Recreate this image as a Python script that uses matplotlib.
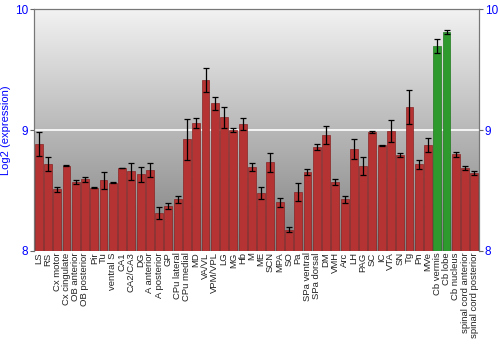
import numpy as np
import matplotlib
matplotlib.use('Agg')
import matplotlib.pyplot as plt
from matplotlib.colors import LinearSegmentedColormap

plt.rcParams['font.family'] = ['Liberation Sans', 'DejaVu Sans']

regions = ['LS', 'RS', 'Cx motor', 'Cx cingulate', 'OB anterior', 'OB posterior',
           'Pir', 'Tu', 'ventral S', 'CA1', 'CA2/CA3', 'DG', 'A anterior', 'A posterior',
           'GP', 'CPu lateral', 'CPu medial', 'MD', 'VA/VL', 'VPM/VPL', 'LG', 'MG', 'Hb',
           'M', 'ME', 'SCN', 'MPA', 'SO', 'Pa', 'SPa ventral', 'SPa dorsal', 'DM', 'VMH',
           'Arc', 'LH', 'PAG', 'SC', 'IC', 'VTA', 'SN', 'Tg', 'Pn', 'MVe', 'Cb vermis',
           'Cb lobe', 'Cb nucleus', 'spinal cord anterior', 'spinal cord posterior']
expr = [8.884, 8.718, 8.509, 8.704, 8.572, 8.594, 8.522, 8.586, 8.563, 8.685,
        8.658, 8.635, 8.669, 8.315, 8.370, 8.426, 8.923, 9.060, 9.414, 9.221,
        9.105, 9.000, 9.050, 8.696, 8.480, 8.732, 8.403, 8.177, 8.490, 8.652,
        8.856, 8.961, 8.569, 8.428, 8.840, 8.702, 8.983, 8.873, 8.992, 8.795,
        9.190, 8.718, 8.873, 9.696, 9.812, 8.799, 8.683, 8.646]
err = [0.096, 0.058, 0.020, 0.005, 0.016, 0.020, 0.005, 0.070, 0.005, 0.003,
       0.070, 0.063, 0.060, 0.050, 0.026, 0.030, 0.170, 0.040, 0.100, 0.054,
       0.088, 0.014, 0.052, 0.033, 0.052, 0.075, 0.037, 0.017, 0.075, 0.028,
       0.025, 0.075, 0.022, 0.028, 0.083, 0.073, 0.008, 0.004, 0.088, 0.015,
       0.138, 0.037, 0.057, 0.060, 0.017, 0.018, 0.017, 0.014]
highlight = ['Cb vermis', 'Cb lobe']

fig = plt.figure(figsize=(5, 3.5), dpi=100)
ax = fig.add_axes([0.068, 0.283, 0.89, 0.691])

# gray gradient background, light at top
grad = np.linspace(0, 1, 256).reshape(-1, 1)
cmap = LinearSegmentedColormap.from_list('bg', ['#f2f2f2', '#7e7e7e'])
ax.imshow(grad, aspect='auto', cmap=cmap, origin='upper',
          extent=[-0.5, len(regions) - 0.5, 8, 10], zorder=0)

x = np.arange(len(regions))
colors = ['#2e9a2e' if r in highlight else '#b53333' for r in regions]
edges = ['#1f7a1f' if r in highlight else '#8a2424' for r in regions]
ax.axhline(9, color='white', lw=1.2, zorder=1)
ax.bar(x, np.array(expr) - 8, bottom=8, width=0.85, color=colors, edgecolor=edges,
       linewidth=0.5, zorder=2)
ax.errorbar(x, expr, yerr=err, fmt='none', ecolor='black', elinewidth=0.9,
            capsize=2, capthick=0.9, zorder=3)

ax.set_xlim(-0.5, len(regions) - 0.5)
ax.set_ylim(8, 10)
ax.set_xticks(x)
ax.set_xticklabels(regions, rotation=90, fontsize=6.8, color='#222222')
ax.tick_params(axis='x', length=0, pad=1)
ax.set_yticks([8, 9, 10])
ax.tick_params(axis='y', colors='#666666', labelcolor='blue', labelsize=8.5, length=3, pad=1)
ax.set_ylabel('Log2 (expression)', color='blue', fontsize=8)
ax.yaxis.set_label_coords(-0.052, 0.5)
for s in ['left', 'right', 'top']:
    ax.spines[s].set_color('#777777')
ax.spines['bottom'].set_visible(False)

ax2 = ax.twinx()
ax2.set_ylim(8, 10)
ax2.set_yticks([8, 9, 10])
ax2.tick_params(axis='y', colors='#666666', labelcolor='blue', labelsize=8.5, length=3, pad=1)
for s in ['left', 'right', 'top']:
    ax2.spines[s].set_color('#777777')
ax2.spines['bottom'].set_visible(False)

fig.savefig('out.png', dpi=100)
